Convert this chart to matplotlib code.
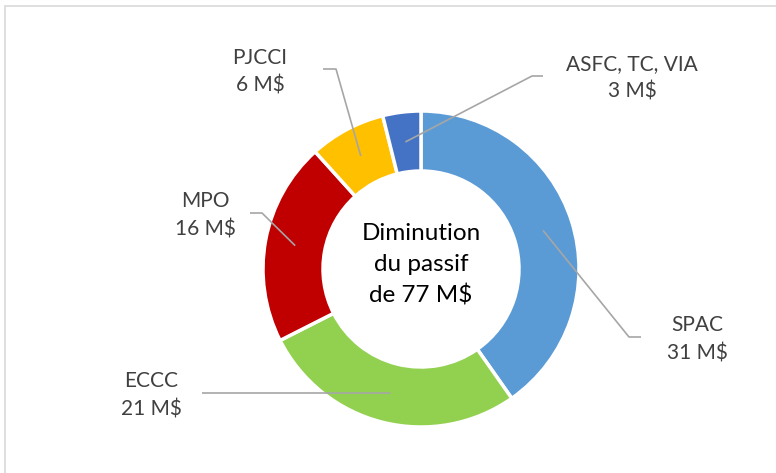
import matplotlib
matplotlib.use("Agg")
import matplotlib.pyplot as plt
import numpy as np
from matplotlib.patches import Rectangle

categories = ["SPAC", "ECCC", "MPO", "PJCCI", "ASFC, TC, VIA"]
values = [31, 21, 16, 6, 3]
value_labels = ["31 M$", "21 M$", "16 M$", "6 M$", "3 M$"]
colors = ["#5B9BD5", "#92D050", "#C00000", "#FFC000", "#4472C4"]
center_text = "Diminution\ndu passif\nde 77 M$"

W, H = 776, 473
plt.rcParams['font.family'] = ['Lato', 'DejaVu Sans']

fig = plt.figure(figsize=(W / 100, H / 100), dpi=100)
ax = fig.add_axes([0, 0, 1, 1])
ax.set_xlim(0, W)
ax.set_ylim(0, H)
ax.set_aspect('equal')
ax.axis('off')

def Y(y):
    return H - y

# border
ax.add_patch(Rectangle((5, Y(480)), 800, 474, fill=False, edgecolor="#D9D9D9", linewidth=1.2))

cx, cy = 421, Y(269)
R = 158
width = 60
wedges, _ = ax.pie(values, colors=colors, startangle=90, counterclock=False,
                   center=(cx, cy), radius=R,
                   wedgeprops=dict(width=width, edgecolor='white', linewidth=2.5))
ax.set_xlim(0, W)
ax.set_ylim(0, H)
ax.set_aspect('equal')

ax.text(cx, Y(265), center_text, ha='center', va='center', fontsize=17.5,
        color='black', linespacing=1.55)

# label layout: (label center x, label center y, elbow point, horizontal end)
layout = [
    ((697, 339), (629, 337), (641, 337)),
    ((151, 395), (390, 393), (202, 393)),
    ((205, 215), (262, 213), (250, 213)),
    ((260, 72), (336, 69), (323, 69)),
    ((632, 78), (532, 76), (543, 76)),
]
r_mid = R - width / 2
for w, cat, vl, (lab, elbow, end) in zip(wedges, categories, value_labels, layout):
    ang = np.deg2rad((w.theta1 + w.theta2) / 2)
    sx, sy = cx + r_mid * np.cos(ang), cy + r_mid * np.sin(ang)
    ax.plot([sx, elbow[0], end[0]], [sy, Y(elbow[1]), Y(end[1])],
            color="#A6A6A6", linewidth=1.2, solid_capstyle='butt')
    ax.text(lab[0], Y(lab[1]), f"{cat}\n{vl}", ha='center', va='center',
            fontsize=15, color="#404040", linespacing=1.5)

fig.savefig("out.png", dpi=100)
